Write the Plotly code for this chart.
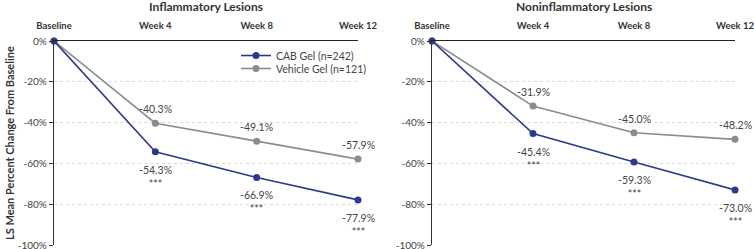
import plotly.graph_objects as go

timepoints = ["Baseline", "Week 4", "Week 8", "Week 12"]
panel_titles = ["Inflammatory Lesions", "Noninflammatory Lesions"]
cab_inflam = [0, -54.3, -66.9, -77.9]
veh_inflam = [0, -40.3, -49.1, -57.9]
cab_noninf = [0, -45.4, -59.3, -73.0]
veh_noninf = [0, -31.9, -45.0, -48.2]
cab_name = "CAB Gel (n=242)"
veh_name = "Vehicle Gel (n=121)"
sig = "***"
yticks = [0, -20, -40, -60, -80, -100]
ytick_text = ["0%", "-20%", "-40%", "-60%", "-80%", "-100%"]

CAB_C = "#2b3a8c"
VEH_C = "#8c8c8c"
TXT = "#444444"
FONT = "Lato"

W, H = 754, 249
mt, mb = 41, 4
plot_h = H - mt - mb
x_domains = [[54 / W, 358 / W], [432 / W, 735 / W]]

fig = go.Figure()
xs = list(range(len(timepoints)))
panels = [(cab_inflam, veh_inflam), (cab_noninf, veh_noninf)]

for i, (cab, veh) in enumerate(panels):
    xa = "x" if i == 0 else "x2"
    ya = "y" if i == 0 else "y2"
    fig.add_trace(go.Scatter(x=xs, y=veh, mode="lines+markers", name=veh_name,
                             line=dict(color=VEH_C, width=1.6), marker=dict(size=7, color=VEH_C),
                             xaxis=xa, yaxis=ya, showlegend=(i == 0), legend="legend2",
                             cliponaxis=False))
    fig.add_trace(go.Scatter(x=xs, y=cab, mode="lines+markers", name=cab_name,
                             line=dict(color=CAB_C, width=1.6), marker=dict(size=7, color=CAB_C),
                             xaxis=xa, yaxis=ya, showlegend=(i == 0), legend="legend",
                             cliponaxis=False))
    for j in range(1, len(timepoints)):
        fig.add_annotation(x=xs[j], y=veh[j], xref=xa, yref=ya, text=f"{veh[j]:.1f}%",
                           showarrow=False, xanchor="center", yanchor="bottom", yshift=6,
                           font=dict(family=FONT, size=10.5, color=TXT))
        fig.add_annotation(x=xs[j], y=cab[j], xref=xa, yref=ya, text=f"{cab[j]:.1f}%<br>{sig}",
                           showarrow=False, xanchor="center", yanchor="top", yshift=-10,
                           font=dict(family=FONT, size=10.5, color=TXT))

for i, t in enumerate(panel_titles):
    d = x_domains[i]
    fig.add_annotation(x=(d[0] + d[1]) / 2, y=1 + 34 / plot_h, xref="paper", yref="paper",
                       text=f"<b>{t}</b>", showarrow=False, xanchor="center", yanchor="middle",
                       font=dict(family=FONT, size=12, color="#333333"))

fig.add_annotation(x=9 / W, y=0.5, xref="paper", yref="paper", textangle=-90,
                   text="<b>LS Mean Percent Change From Baseline</b>", showarrow=False,
                   xanchor="center", yanchor="middle", font=dict(family=FONT, size=11, color="#333333"))

for i in range(2):
    sfx = "" if i == 0 else "2"
    fig.update_layout(**{
        "xaxis" + sfx: dict(domain=x_domains[i], range=[0, 3], side="top", tickmode="array",
                            tickvals=xs, ticktext=[f"<b>{t}</b>" for t in timepoints],
                            showline=True, linecolor="#222222", linewidth=1.2, ticks="",
                            ticklabelstandoff=7, ticklabeloverflow="allow",
                            showgrid=False, zeroline=False, anchor="y" + sfx,
                            tickfont=dict(family=FONT, size=9.5, color="#333333"),
                            automargin=False, fixedrange=True),
        "yaxis" + sfx: dict(domain=[0, 1], range=[-100, 0], tickmode="array", tickvals=yticks,
                            ticktext=ytick_text, showline=True, linecolor="#333333", linewidth=1.2,
                            ticks="outside", ticklen=4, tickcolor="#333333", showgrid=True,
                            ticklabeloverflow="allow",
                            gridcolor="#d9d9d9", griddash="dot", gridwidth=1, zeroline=False,
                            anchor="x" + sfx, tickfont=dict(family=FONT, size=10, color=TXT),
                            automargin=False, fixedrange=True),
    })

leg_common = dict(xanchor="left", yanchor="top", font=dict(family=FONT, size=10.5, color=TXT),
                  bgcolor="rgba(0,0,0,0)", itemwidth=30)
fig.update_layout(
    width=W, height=H, margin=dict(l=0, r=0, t=mt, b=mb),
    plot_bgcolor="white", paper_bgcolor="white",
    legend=dict(x=236 / W, y=1 - 0 / plot_h, **leg_common),
    legend2=dict(x=236 / W, y=1 - 13 / plot_h, **leg_common),
    showlegend=True,
)
fig.write_html("out.html", config={"displayModeBar": False},
               post_script="document.body.style.margin='0';document.body.style.padding='0';")
